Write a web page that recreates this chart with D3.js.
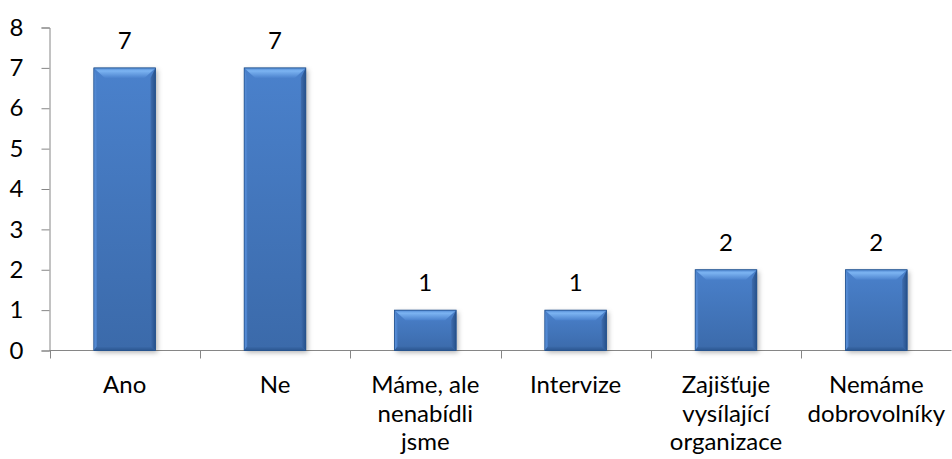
<!DOCTYPE html>
<html lang="cs">
<head>
  <meta charset="UTF-8">
  <title>Sloupcový graf</title>
  <script src="https://d3js.org/d3.v7.min.js"></script>
  <style>
    body { margin: 0; background: #fff; }
    svg { display: block; font-family: Lato, "Open Sans", sans-serif; }
  </style>
</head>
<body>
  <svg width="952" height="459"></svg>
  <script>
    // data
    const categories = ["Ano", "Ne", "Máme, ale nenabídli jsme", "Intervize", "Zajišťuje vysílající organizace", "Nemáme dobrovolníky"];
    const labelLines = [["Ano"], ["Ne"], ["Máme, ale", "nenabídli", "jsme"], ["Intervize"], ["Zajišťuje", "vysílající", "organizace"], ["Nemáme", "dobrovolníky"]];
    const values = [7, 7, 1, 1, 2, 2];
    const yTicks = [0, 1, 2, 3, 4, 5, 6, 7, 8];

    const width = 952, height = 459,
          margin = {top: 27.5, right: 0.5, bottom: 108, left: 49.5};
    const fontSize = 24;

    const svg = d3.select("svg");

    const x = d3.scaleBand()
      .domain(categories)
      .range([margin.left, width - margin.right])
      .paddingInner(0.59)
      .paddingOuter(0.295);

    const y = d3.scaleLinear()
      .domain([0, 8])
      .range([height - margin.bottom - 0.5, margin.top]);

    const defs = svg.append("defs");

    const grad = (id, x2, y2, stops) => {
      const g = defs.append("linearGradient").attr("id", id)
        .attr("x1", 0).attr("y1", 0).attr("x2", x2).attr("y2", y2);
      stops.forEach(s => g.append("stop").attr("offset", s[0]).attr("stop-color", s[1]));
    };
    grad("body", 0, 1, [[0, "#4a81cc"], [1, "#3b6aaa"]]);
    grad("top", 0, 1, [[0, "#5088d2"], [0.3, "#7cb4f2"], [1, "#4c83ce"]]);
    grad("left", 1, 0, [[0, "#5b91da"], [1, "#4a80ca"]]);
    grad("right", 1, 0, [[0, "#3f6dae"], [1, "#26508a"]]);
    grad("bottom", 0, 1, [[0, "#3b6aaa"], [1, "#2b5690"]]);

    defs.append("filter").attr("id", "shadow")
      .attr("x", "-20%").attr("y", "-20%").attr("width", "140%").attr("height", "140%")
      .append("feDropShadow")
      .attr("dx", 2).attr("dy", 2).attr("stdDeviation", 2.5)
      .attr("flood-color", "#000").attr("flood-opacity", 0.3);

    // axes
    const axisColor = "#868686";
    const yAxis = svg.append("g")
      .attr("transform", `translate(${margin.left},0)`)
      .call(d3.axisLeft(y).tickValues(yTicks).tickSize(8).tickPadding(18));
    yAxis.select(".domain").attr("stroke", axisColor);
    yAxis.selectAll(".tick line").attr("stroke", axisColor);
    yAxis.selectAll(".tick text")
      .attr("fill", "#000").attr("font-size", fontSize).attr("font-family", "Lato, sans-serif");

    const step = x.step();
    const bounds = d3.range(categories.length + 1).map(i => margin.left + i * step);
    const xg = svg.append("g");
    xg.append("line")
      .attr("x1", margin.left).attr("x2", width - margin.right)
      .attr("y1", y(0)).attr("y2", y(0))
      .attr("stroke", axisColor);
    xg.selectAll("line.tick").data(bounds).join("line")
      .attr("class", "tick")
      .attr("x1", d => Math.round(d) + 0.5).attr("x2", d => Math.round(d) + 0.5)
      .attr("y1", y(0)).attr("y2", y(0) + 8)
      .attr("stroke", axisColor);

    // bars
    const bars = svg.append("g").selectAll("g")
      .data(categories.map((c, i) => ({c, v: values[i]})))
      .join("g");

    bars.each(function(d) {
      const g = d3.select(this);
      const x0 = x(d.c), x1 = x0 + x.bandwidth();
      const y0 = y(d.v), y1 = y(0);
      const t = 10, s = 11, b = 4;
      const pts = p => p.map(q => q.join(",")).join(" ");

      g.append("rect")
        .attr("x", x0).attr("y", y0).attr("width", x1 - x0).attr("height", y1 - y0)
        .attr("fill", "#3b6aaa").attr("filter", "url(#shadow)");
      g.append("rect")
        .attr("x", x0).attr("y", y0).attr("width", x1 - x0).attr("height", y1 - y0)
        .attr("fill", "url(#body)");
      g.append("polygon").attr("fill", "url(#left)")
        .attr("points", pts([[x0, y0], [x0 + 3, y0 + t], [x0 + 3, y1 - b], [x0, y1]]));
      g.append("polygon").attr("fill", "url(#right)")
        .attr("points", pts([[x1, y0], [x1 - 5, y0 + t], [x1 - 5, y1 - b], [x1, y1]]));
      g.append("polygon").attr("fill", "url(#bottom)")
        .attr("points", pts([[x0, y1], [x0 + 3, y1 - b], [x1 - 5, y1 - b], [x1, y1]]));
      g.append("polygon").attr("fill", "url(#top)")
        .attr("points", pts([[x0, y0], [x1, y0], [x1 - s, y0 + t], [x0 + s, y0 + t]]));
      g.append("rect")
        .attr("x", x0).attr("y", y0).attr("width", x1 - x0).attr("height", y1 - y0)
        .attr("fill", "none").attr("stroke", "#23518c").attr("stroke-width", 0.8);
    });

    // value labels
    svg.append("g").selectAll("text")
      .data(categories.map((c, i) => ({c, v: values[i]})))
      .join("text")
      .attr("x", d => x(d.c) + x.bandwidth() / 2)
      .attr("y", d => y(d.v) - 19)
      .attr("text-anchor", "middle")
      .attr("font-size", fontSize)
      .text(d => d.v);

    // category labels
    const cl = svg.append("g").selectAll("text")
      .data(categories.map((c, i) => ({c, lines: labelLines[i]})))
      .join("text")
      .attr("x", d => x(d.c) + x.bandwidth() / 2)
      .attr("y", 393)
      .attr("text-anchor", "middle")
      .attr("font-size", fontSize);
    cl.selectAll("tspan").data(d => d.lines.map(l => ({l, x: x(d.c) + x.bandwidth() / 2})))
      .join("tspan")
      .attr("x", d => d.x)
      .attr("dy", (d, i) => i === 0 ? 0 : 28.5)
      .text(d => d.l);
  </script>
</body>
</html>
